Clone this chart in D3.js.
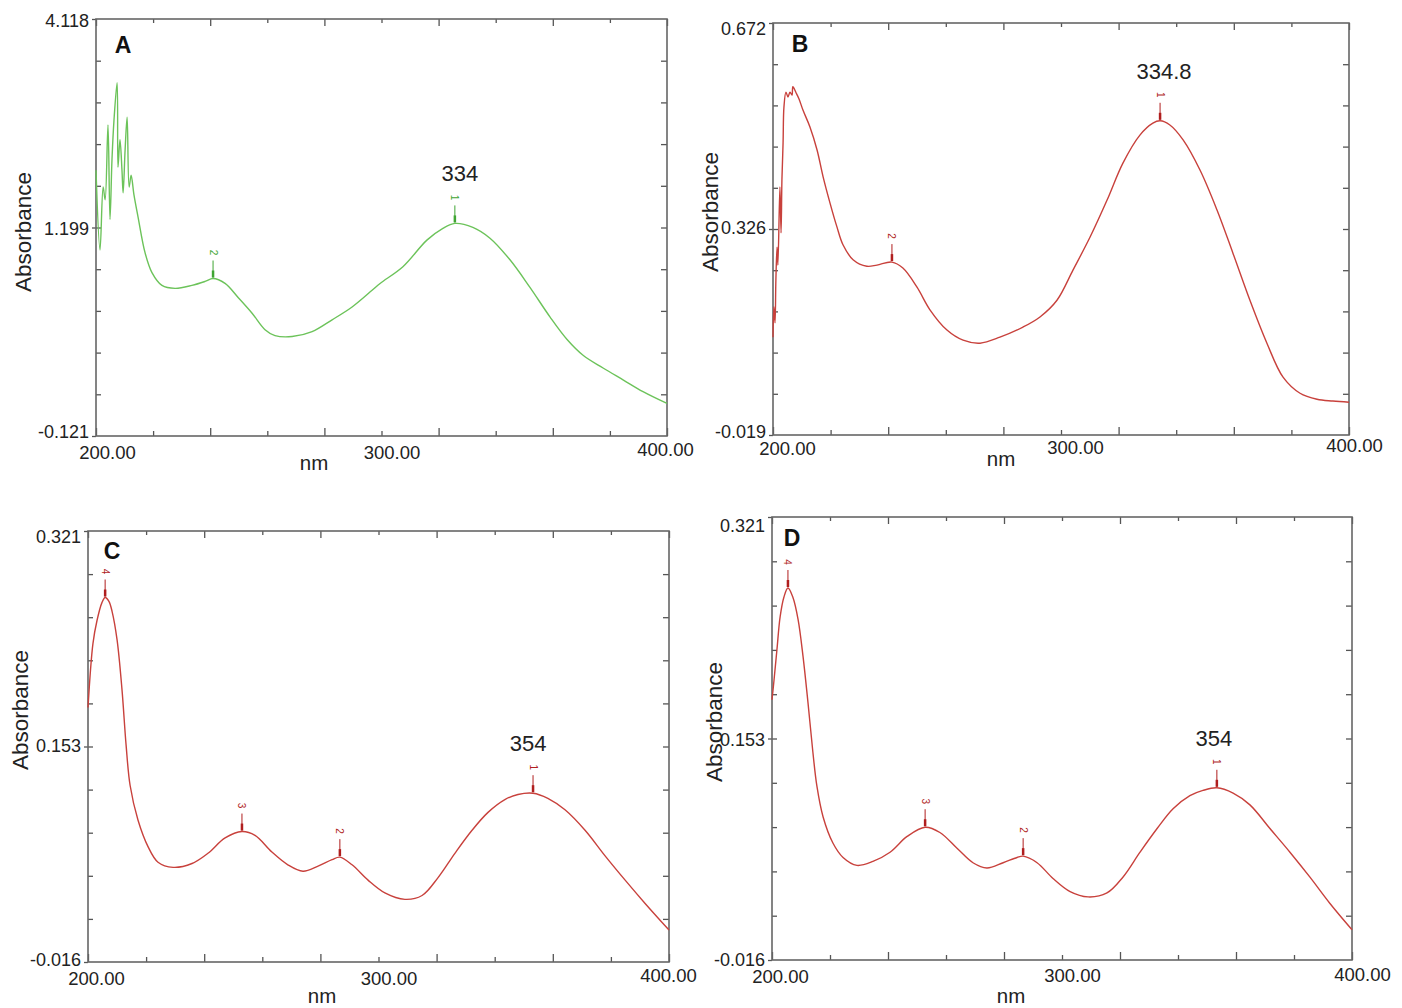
<!DOCTYPE html>
<html>
<head>
<meta charset="utf-8">
<script src="https://cdn.jsdelivr.net/npm/d3@7"></script>
<style>
  body { margin: 0; background: #fff; }
  svg { display: block; font-family: "Liberation Sans", Arial, sans-serif; }
</style>
</head>
<body>
<script>
var xDomain = [200, 400];
var xTickValues = [200, 300, 400];
var xTickLabels = ['200.00', '300.00', '400.00'];

// panel A (green)
var nmA = [200,201.4,202.5,203.2,204.2,204.9,205.6,206.3,207.4,207.7,208.4,209.1,209.5,210.2,210.9,
  211.6,212.3,213.3,214.7,217.2,219.6,223.1,227.7,233.6,238.2,241.0,245.2,249.7,254.6,259.2,
  262.7,268.7,275.7,282.7,289.7,296.7,299.5,307.5,315.9,321.5,325.7,332.0,338.0,345.0,352.0,
  359.0,365.0,370.6,377.6,384.6,391.6,400];
var absA = [2.58,1.77,2.41,2.28,3.04,2.08,2.69,3.09,3.47,2.61,2.89,2.58,2.35,2.79,3.12,
  2.41,2.53,2.33,2.11,1.74,1.54,1.41,1.38,1.41,1.45,1.48,1.43,1.29,1.13,0.96,
  0.90,0.89,0.94,1.06,1.19,1.36,1.43,1.60,1.87,1.99,2.04,2.00,1.89,1.67,1.39,
  1.09,0.86,0.70,0.57,0.45,0.33,0.21];
var yDomainA = [-0.121, 4.118];
var yLabelsA = ['-0.121', '1.199', '4.118'];
var peakNmA = [241.0, 325.7];
var peakIdA = ['2', '1'];
var peakTextA = '334';

// panel B
var nmB = [200,200.3,200.7,201.0,201.4,201.7,202.4,202.8,203.1,203.5,203.8,204.5,205.2,205.9,206.6,
  206.9,208.0,209.0,210.4,212.8,215.3,217.4,219.8,222.2,224.3,227.8,232.6,236.1,241.3,245.1,
  250.0,254.5,260.4,266.0,271.9,278.8,286.8,292.7,298.6,304.2,310.1,316.0,321.5,327.4,331.9,
  334.4,337.8,342.4,348.3,354.2,359.7,365.6,371.5,377.1,383.0,388.9,394.4,400];
var absB = [0.145,0.196,0.169,0.241,0.296,0.266,0.397,0.320,0.409,0.471,0.531,0.556,0.548,0.556,0.551,
  0.565,0.555,0.545,0.526,0.498,0.459,0.414,0.370,0.330,0.300,0.275,0.264,0.266,0.271,0.261,
  0.229,0.191,0.157,0.140,0.135,0.145,0.162,0.179,0.207,0.258,0.313,0.375,0.437,0.484,0.504,
  0.508,0.501,0.476,0.425,0.358,0.286,0.207,0.135,0.078,0.051,0.041,0.038,0.036];
var yDomainB = [-0.019, 0.672];
var yLabelsB = ['-0.019', '0.326', '0.672'];
var peakNmB = [241.3, 334.4];
var peakIdB = ['2', '1'];
var peakTextB = '334.8';

// panel C
var nmC = [200,201.7,203.1,204.8,205.9,207.2,208.3,210.0,211.7,213.1,214.5,217.2,220.7,224.1,229.3,
  235.8,241.3,247.2,253.0,257.5,263.3,268.8,274.0,279.2,284.0,286.7,290.9,296.4,302.2,309.1,
  315.0,320.5,326.3,332.2,337.7,343.5,348.0,353.2,358.3,364.2,371.1,378.0,384.9,391.7,400];
var absC = [0.183,0.233,0.251,0.265,0.269,0.266,0.258,0.236,0.197,0.154,0.122,0.095,0.074,0.062,0.058,
  0.061,0.069,0.081,0.086,0.083,0.070,0.060,0.055,0.059,0.064,0.066,0.060,0.048,0.038,0.033,
  0.036,0.050,0.069,0.087,0.101,0.111,0.115,0.116,0.112,0.103,0.087,0.067,0.048,0.030,0.009];
var yDomainC = [-0.016, 0.321];
var yLabelsC = ['-0.016', '0.153', '0.321'];
var peakNmC = [205.9, 253.0, 286.7, 353.2];
var peakIdC = ['4', '3', '2', '1'];
var peakTextC = '354';

// panel D
var nmD = [200,200.7,201.7,202.8,204.1,205.5,207.2,209.0,210.7,212.4,214.1,215.5,217.6,221.0,224.5,
  229.3,234.8,240.7,246.6,252.8,257.9,263.8,269.3,274.1,279.7,284.5,286.6,291.4,296.9,302.8,
  309.0,315.5,321.0,326.9,332.8,338.3,344.1,348.6,353.4,359.0,364.8,371.7,378.6,385.5,392.4,400];
var absD = [0.182,0.197,0.220,0.245,0.260,0.267,0.260,0.243,0.215,0.180,0.142,0.116,0.093,0.073,0.062,
  0.056,0.059,0.066,0.078,0.085,0.081,0.069,0.058,0.054,0.058,0.062,0.063,0.058,0.046,0.036,
  0.032,0.035,0.047,0.066,0.084,0.099,0.109,0.113,0.115,0.111,0.102,0.084,0.066,0.047,0.027,0.007];
var yDomainD = [-0.016, 0.321];
var yLabelsD = ['-0.016', '0.153', '0.321'];
var peakNmD = [205.5, 252.8, 286.6, 353.4];
var peakIdD = ['4', '3', '2', '1'];
var peakTextD = '354';

var svg = d3.select('body').append('svg')
  .attr('width', 1402)
  .attr('height', 1008);

var panels = [
  {name: 'A', nm: nmA, abs: absA, yDomain: yDomainA, yLabels: yLabelsA,
   peakNm: peakNmA, peakId: peakIdA, peakText: peakTextA, peakTextDx: 5,
   color: '#6cc35a', mark: '#3fa532',
   left: 96, right: 667, top: 19, bottom: 436,
   yLabelDy: [-4, 1, 2], xLabelDx: [11, 10, -2], xLabelDy: [0, 0, -3],
   nmX: 314, nmY: 470, absX: 23, absY: 232, letter: [123, 53]},
  {name: 'B', nm: nmB, abs: absB, yDomain: yDomainB, yLabels: yLabelsB,
   peakNm: peakNmB, peakId: peakIdB, peakText: peakTextB, peakTextDx: 4,
   color: '#c8413c', mark: '#b01e1e',
   left: 773, right: 1349, top: 23, bottom: 435,
   yLabelDy: [-3, -1, 6], xLabelDx: [14, 14, 5], xLabelDy: [-3, -4, -6],
   nmX: 1001, nmY: 466, absX: 710, absY: 212, letter: [800, 52]},
  {name: 'C', nm: nmC, abs: absC, yDomain: yDomainC, yLabels: yLabelsC,
   peakNm: peakNmC, peakId: peakIdC, peakText: peakTextC, peakTextDx: -5,
   color: '#c8413c', mark: '#b01e1e',
   left: 88, right: 669, top: 531, bottom: 962,
   yLabelDy: [-2, -1, 6], xLabelDx: [8, 10, -1], xLabelDy: [0, 0, -3],
   nmX: 322, nmY: 1003, absX: 20, absY: 710, letter: [112, 559]},
  {name: 'D', nm: nmD, abs: absD, yDomain: yDomainD, yLabels: yLabelsD,
   peakNm: peakNmD, peakId: peakIdD, peakText: peakTextD, peakTextDx: -3,
   color: '#c8413c', mark: '#b01e1e',
   left: 772, right: 1352, top: 517, bottom: 960,
   yLabelDy: [0, 1, 9], xLabelDx: [8, 10, 10], xLabelDy: [0, -1, -2],
   nmX: 1011, nmY: 1003, absX: 714, absY: 722, letter: [792, 546]}
];

var drawPanel = function(p) {
  var x = d3.scaleLinear().domain(xDomain).range([p.left, p.right]);
  var y = d3.scaleLinear().domain(p.yDomain).range([p.bottom, p.top]);
  var g = svg.append('g');

  var xStep = (xDomain[1] - xDomain[0]) / 10;
  var xMajor = d3.range(0, 11, 2).map(function(i) { return xDomain[0] + i * xStep; });
  var xMinor = d3.range(1, 10, 2).map(function(i) { return xDomain[0] + i * xStep; });
  var yStep = (p.yDomain[1] - p.yDomain[0]) / 10;
  var yAll = d3.range(1, 10).map(function(i) { return p.yDomain[0] + i * yStep; });

  // inward ticks on all four sides
  var tickAxes = [
    [d3.axisBottom(x).tickValues(xMajor).tickSize(-8), 'translate(0,' + p.bottom + ')'],
    [d3.axisBottom(x).tickValues(xMinor).tickSize(-5), 'translate(0,' + p.bottom + ')'],
    [d3.axisTop(x).tickValues(xMajor).tickSize(-7), 'translate(0,' + p.top + ')'],
    [d3.axisTop(x).tickValues(xMinor).tickSize(-4), 'translate(0,' + p.top + ')'],
    [d3.axisLeft(y).tickValues(yAll).tickSize(-5), 'translate(' + p.left + ',0)'],
    [d3.axisRight(y).tickValues(yAll).tickSize(-6), 'translate(' + p.right + ',0)']
  ];
  tickAxes.forEach(function(t) {
    var a = g.append('g').attr('transform', t[1]).call(t[0].tickFormat(''));
    a.select('.domain').remove();
    a.selectAll('line').attr('stroke', '#555').attr('stroke-width', 1.3);
  });

  // labelled y ticks
  var yVals = [p.yDomain[0], (p.yDomain[0] + p.yDomain[1]) / 2, p.yDomain[1]];
  var yAxis = g.append('g')
    .attr('transform', 'translate(' + p.left + ',0)')
    .call(d3.axisLeft(y).tickValues(yVals).tickSize(4).tickPadding(3)
      .tickFormat(function(d, i) { return p.yLabels[i]; }));
  yAxis.select('.domain').remove();
  yAxis.selectAll('line').attr('stroke', '#555').attr('stroke-width', 1.3);
  yAxis.selectAll('text')
    .attr('font-size', 18).attr('fill', '#222')
    .attr('font-family', '"Liberation Sans", Arial, sans-serif')
    .attr('dy', function(d, i) { return (0.32 * 18 + p.yLabelDy[i]) + 'px'; });

  // x tick labels
  var xAxis = g.append('g')
    .attr('transform', 'translate(0,' + p.bottom + ')')
    .call(d3.axisBottom(x).tickValues(xTickValues).tickSize(0).tickPadding(10)
      .tickFormat(function(d, i) { return xTickLabels[i]; }));
  xAxis.select('.domain').remove();
  xAxis.selectAll('text')
    .attr('font-size', 18.5).attr('fill', '#222')
    .attr('font-family', '"Liberation Sans", Arial, sans-serif')
    .attr('dx', function(d, i) { return p.xLabelDx[i]; })
    .attr('dy', function(d, i) { return (0.68 * 18.5 + p.xLabelDy[i]) + 'px'; });

  // frame
  g.append('rect')
    .attr('x', p.left).attr('y', p.top)
    .attr('width', p.right - p.left).attr('height', p.bottom - p.top)
    .attr('fill', 'none').attr('stroke', '#666').attr('stroke-width', 1.6);

  // spectrum
  var pts = p.nm.map(function(d, i) { return [d, p.abs[i]]; });
  var line = d3.line()
    .x(function(d) { return x(d[0]); })
    .y(function(d) { return y(d[1]); })
    .curve(d3.curveCatmullRom.alpha(0.5));
  g.append('path')
    .datum(pts)
    .attr('d', line)
    .attr('fill', 'none')
    .attr('stroke', p.color)
    .attr('stroke-width', 1.4);

  // peak markers
  p.peakNm.forEach(function(nm, k) {
    var v = p.abs[p.nm.indexOf(nm)];
    var px = x(nm), py = y(v);
    g.append('line')
      .attr('x1', px).attr('x2', px).attr('y1', py - 18).attr('y2', py - 1)
      .attr('stroke', p.mark).attr('stroke-width', 1);
    g.append('line')
      .attr('x1', px).attr('x2', px).attr('y1', py - 8).attr('y2', py - 1)
      .attr('stroke', p.mark).attr('stroke-width', 2.5);
    g.append('text')
      .attr('transform', 'translate(' + px + ',' + (py - 26) + ') rotate(90)')
      .attr('text-anchor', 'middle').attr('dy', '0.35em')
      .attr('font-size', 10).attr('fill', p.mark)
      .text(p.peakId[k]);
    if (p.peakId[k] === '1') {
      g.append('text')
        .attr('x', px + p.peakTextDx).attr('y', py - 42)
        .attr('text-anchor', 'middle')
        .attr('font-size', 22).attr('fill', '#222')
        .text(p.peakText);
    }
  });

  // axis titles and panel letter
  g.append('text')
    .attr('x', p.nmX).attr('y', p.nmY)
    .attr('text-anchor', 'middle').attr('font-size', 20.5).attr('fill', '#222')
    .text('nm');
  g.append('text')
    .attr('transform', 'translate(' + p.absX + ',' + p.absY + ') rotate(-90)')
    .attr('text-anchor', 'middle').attr('dy', '0.35em')
    .attr('font-size', 22.5).attr('fill', '#222')
    .text('Absorbance');
  g.append('text')
    .attr('x', p.letter[0]).attr('y', p.letter[1])
    .attr('text-anchor', 'middle').attr('font-size', 23)
    .attr('font-weight', 'bold').attr('fill', '#111')
    .text(p.name);
};

panels.forEach(drawPanel);
</script>
</body>
</html>
